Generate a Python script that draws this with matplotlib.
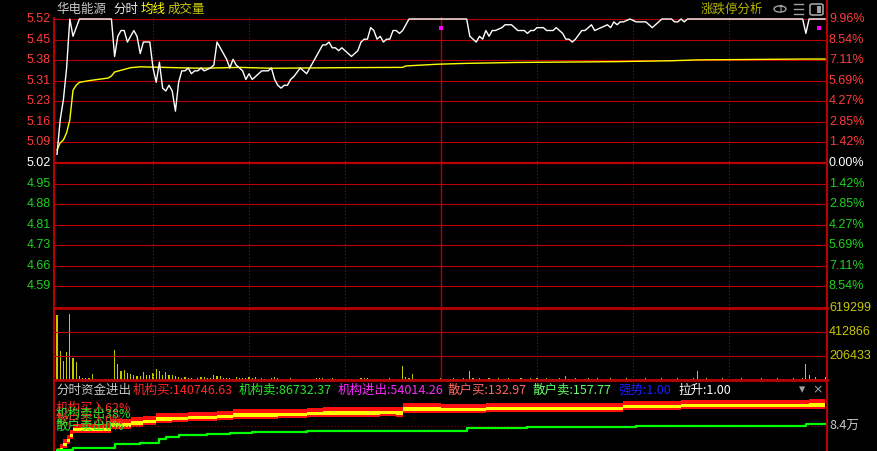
import matplotlib

matplotlib.use("Agg")
import matplotlib.pyplot as plt
import matplotlib.transforms as mtransforms
from matplotlib.lines import Line2D
from matplotlib.patches import Circle, FancyBboxPatch
import numpy as np

plt.rcParams["font.family"] = ["Noto Sans CJK SC", "DejaVu Sans"]

# ---- data ----
PREV_CLOSE = 5.02
LIMIT_UP = 5.52

price_min = [0, 1, 2, 3, 4, 5, 6, 7, 17, 18,
             19, 20, 21, 22, 23, 24, 25, 26, 27, 28,
             29, 30, 31, 32, 33, 34, 35, 36, 37, 38,
             39, 40, 41, 42, 43, 44, 45, 46, 48, 49,
             50, 51, 53, 54, 55, 56, 58, 59, 60, 61,
             62, 64, 66, 67, 68, 69, 70, 71, 72, 73,
             74, 76, 77, 78, 79, 80, 81, 82, 83, 84,
             85, 86, 87, 88, 89, 90, 91, 92, 93, 94,
             95, 96, 97, 98, 99, 100, 101, 102, 103, 104,
             105, 106, 107, 108, 109, 110, 128, 129, 130, 131,
             132, 133, 134, 135, 136, 137, 139, 140, 142, 143,
             144, 146, 147, 148, 149, 150, 152, 153, 155, 156,
             158, 159, 160, 161, 162, 164, 165, 166, 167, 168,
             170, 172, 173, 174, 175, 176, 177, 179, 181, 184,
             185, 186, 187, 188, 189, 192, 193, 194, 195, 196,
             197, 233, 234, 235, 240]
price = [5.05, 5.17, 5.24, 5.35, 5.52, 5.46, 5.49, 5.52, 5.52, 5.39,
         5.46, 5.48, 5.48, 5.44, 5.46, 5.48, 5.46, 5.40, 5.44, 5.44,
         5.44, 5.35, 5.30, 5.37, 5.28, 5.27, 5.29, 5.27, 5.20, 5.30,
         5.34, 5.34, 5.35, 5.33, 5.34, 5.34, 5.35, 5.34, 5.35, 5.36,
         5.44, 5.42, 5.38, 5.35, 5.38, 5.36, 5.34, 5.31, 5.33, 5.31,
         5.32, 5.34, 5.34, 5.35, 5.31, 5.29, 5.28, 5.29, 5.29, 5.31,
         5.32, 5.35, 5.34, 5.33, 5.35, 5.37, 5.39, 5.41, 5.43, 5.43,
         5.44, 5.42, 5.42, 5.41, 5.42, 5.41, 5.40, 5.39, 5.40, 5.41,
         5.44, 5.45, 5.45, 5.49, 5.48, 5.45, 5.46, 5.44, 5.45, 5.45,
         5.48, 5.48, 5.47, 5.48, 5.50, 5.52, 5.52, 5.46, 5.45, 5.44,
         5.46, 5.45, 5.48, 5.46, 5.48, 5.48, 5.49, 5.50, 5.50, 5.49,
         5.48, 5.48, 5.47, 5.48, 5.48, 5.49, 5.49, 5.48, 5.48, 5.49,
         5.47, 5.45, 5.45, 5.44, 5.45, 5.48, 5.48, 5.49, 5.50, 5.48,
         5.49, 5.50, 5.49, 5.51, 5.50, 5.51, 5.51, 5.52, 5.51, 5.51,
         5.50, 5.49, 5.50, 5.51, 5.52, 5.52, 5.51, 5.51, 5.52, 5.51,
         5.52, 5.52, 5.47, 5.52, 5.52]

avg_min = [0, 1, 2, 3, 4, 5, 6, 7, 10, 14, 16, 17, 18, 21, 23, 26, 37, 45,
           57, 67, 89, 108, 109, 119, 128, 143, 175, 192, 200, 234, 240]
avg_price = [5.065, 5.09, 5.10, 5.125, 5.17, 5.273, 5.29, 5.30, 5.306, 5.312,
             5.315, 5.322, 5.336, 5.345, 5.351, 5.354, 5.351, 5.349, 5.352,
             5.349, 5.351, 5.352, 5.357, 5.363, 5.366, 5.369, 5.372, 5.375,
             5.378, 5.381, 5.381]

mark_min = [120, 238]
mark_price = [5.49, 5.49]

# volume per minute, thousands of lots
vol_am = [562, 252, 166, 244, 570, 192, 158, 37, 20, 20,
          20, 54, 11, 11, 11, 11, 11, 11, 261, 140,
          80, 89, 63, 54, 46, 37, 37, 71, 46, 46,
          63, 97, 80, 46, 71, 46, 46, 37, 28, 20,
          28, 20, 20, 11, 20, 28, 28, 20, 20, 46,
          37, 37, 20, 20, 20, 11, 28, 20, 20, 20,
          28, 20, 28, 11, 20, 11, 11, 20, 28, 20,
          11, 11, 11, 20, 11, 11, 11, 11, 11, 11,
          11, 20, 20, 20, 11, 11, 20, 11, 11, 11,
          11, 11, 11, 11, 11, 20, 20, 20, 11, 11,
          11, 11, 11, 11, 20, 11, 11, 11, 123, 28,
          20, 54, 11, 11, 11, 11, 11, 11, 11, 11,
          20]
vol_pm = [11, 9, 9, 17, 9, 9, 17, 9, 77, 17,
          9, 17, 9, 9, 17, 9, 9, 17, 9, 9,
          17, 9, 9, 9, 17, 9, 9, 17, 9, 17,
          9, 9, 17, 9, 9, 9, 17, 9, 34, 9,
          9, 17, 9, 9, 9, 17, 9, 9, 17, 9,
          9, 9, 17, 9, 9, 9, 9, 17, 9, 9,
          9, 9, 9, 17, 9, 9, 9, 9, 17, 9,
          9, 9, 9, 17, 9, 9, 9, 9, 17, 77,
          9, 9, 17, 9, 9, 9, 9, 17, 9, 9,
          9, 9, 9, 17, 9, 9, 9, 9, 9, 17,
          9, 9, 9, 9, 17, 9, 9, 9, 9, 17,
          9, 9, 17, 138, 43, 9, 26, 9, 9, 26]
vol_ticks = [619299, 412866, 206433]

price_labels = ["5.52", "5.45", "5.38", "5.31", "5.23", "5.16", "5.09",
                "5.02", "4.95", "4.88", "4.81", "4.73", "4.66", "4.59"]
pct_labels = ["9.96%", "8.54%", "7.11%", "5.69%", "4.27%", "2.85%", "1.42%",
              "0.00%", "1.42%", "2.85%", "4.27%", "5.69%", "7.11%", "8.54%"]

# fund-flow sub chart (units: 10k)
band_min = [0, 1, 2, 3, 4, 5, 17, 23, 27, 31, 36, 41, 50, 55, 69, 78, 83,
            101, 106, 108, 120, 134, 177, 195, 235, 240]
band_top = [1.0, 2.5, 4.0, 5.5, 7.0, 9.07, 10.65, 11.32, 11.86, 12.67, 12.87,
            13.21, 13.54, 14.01, 14.21, 14.40, 14.68, 14.89, 14.68, 16.03,
            15.9, 16.23, 16.80, 17.14, 17.37, 17.37]
green_min = [0, 5, 18, 26, 32, 34, 38, 47, 54, 61, 78, 128, 147, 181, 234, 240]
green_val = [0.34, 1.1, 2.35, 2.69, 3.93, 4.80, 5.38, 5.71, 6.15, 6.49, 6.82,
             7.63, 7.96, 8.30, 8.97, 8.97]
flow_ref = 8.4

header_parts = [("分时资金进出", "#c8c8c8", 56),
                ("机构买:140746.63", "#ff2828", 133),
                ("机构卖:86732.37", "#28e628", 239),
                ("机构进出:54014.26", "#ff28ff", 338),
                ("散户买:132.97", "#ff6464", 448),
                ("散户卖:157.77", "#64ff64", 533),
                ("强势:1.00", "#1e1eff", 618),
                ("拉升:1.00", "#ffffff", 678)]

# ---- drawing ----
RED = "#b80000"
UP = "#ff3c3c"
DOWN = "#1ed21e"
W_PX, H_PX = 878, 451
X0, X1 = 54, 827
XLIM = (-0.94, 240.6)

fig = plt.figure(figsize=(W_PX / 100, H_PX / 100), dpi=100, facecolor="black")


def fx(x):
    return x / W_PX


def fy(y):
    return 1 - y / H_PX


def panel(top, bottom):
    ax = fig.add_axes([fx(X0), fy(bottom), fx(X1) - fx(X0), (bottom - top) / H_PX])
    ax.set_facecolor("black")
    ax.set_xlim(*XLIM)
    ax.set_xticks([])
    ax.set_yticks([])
    for s in ax.spines.values():
        s.set_visible(False)
    return ax


def vgrid(ax):
    for m in (30, 60, 90, 150, 180, 210):
        ax.axvline(m, color=RED, lw=0.8, ls=(0, (1, 2)))
    ax.axvline(120, color=RED, lw=1.0)


# price panel
ax_p = panel(17, 308)
px_per = (LIMIT_UP - PREV_CLOSE) / 144
ax_p.set_ylim(PREV_CLOSE - 145 * px_per, LIMIT_UP + 2 * px_per)
step = (LIMIT_UP - PREV_CLOSE) / 7
levels = [PREV_CLOSE + step * k for k in range(7, -7, -1)]
tr_p = mtransforms.blended_transform_factory(fig.transFigure, ax_p.transData)
for lv, pl, pc in zip(levels, price_labels, pct_labels):
    zero = abs(lv - PREV_CLOSE) < 1e-9
    ax_p.axhline(lv, color=RED, lw=1.6 if zero else 0.8)
    col = "white" if zero else (UP if lv > PREV_CLOSE else DOWN)
    ax_p.text(fx(51), lv, pl, color=col, fontsize=9, family="Liberation Sans",
              ha="right", va="center", transform=tr_p)
    ax_p.text(fx(829), lv, pc, color=col, fontsize=9, family="Liberation Sans",
              ha="left", va="center", transform=tr_p)
vgrid(ax_p)
ax_p.plot(avg_min, avg_price, color="#ffff00", lw=1.0)
ax_p.plot(price_min, price, color="white", lw=1.0)
ax_p.plot(mark_min, mark_price, "s", color="#ff00ff", ms=2.6, mew=0)

# volume panel
ax_v = panel(308, 380)
ax_v.set_ylim(0, vol_ticks[0])
for t in vol_ticks[1:]:
    ax_v.axhline(t, color=RED, lw=0.8)
vgrid(ax_v)
vols = np.array(vol_am + vol_pm) * 1000
ax_v.bar(np.arange(len(vols)), vols, width=0.35, color="#c8c800", linewidth=0)
tr_v = mtransforms.blended_transform_factory(fig.transFigure, ax_v.transData)
for t in vol_ticks:
    ax_v.text(fx(829), t, str(t), color="#c8c800", fontsize=9,
              family="Liberation Sans", ha="left", va="center", transform=tr_v)

# fund-flow panel
ax_f = panel(380, 451)
ax_f.set_ylim(0, 71 / 2.976)
u = 1 / 2.976  # one pixel in data units
bm = np.array(band_min)
bt = np.array(band_top)
ax_f.axhline(flow_ref, color="#900000", lw=0.8, ls=(0, (1, 2)))
ax_f.fill_between(bm, bt - 4 * u, bt, step="post", color="#ff1010", lw=0)
ax_f.fill_between(bm, bt - 7.3 * u, bt - 4 * u, step="post", color="#ffff00", lw=0)
ax_f.fill_between(bm, bt - 9.3 * u, bt - 7.3 * u, step="post", color="#ff1010", lw=0)
ax_f.step(green_min, green_val, where="post", color="#00ff00", lw=1.6)
tr_f = mtransforms.blended_transform_factory(fig.transFigure, ax_f.transData)
ax_f.text(fx(829), flow_ref, "8.4万", color="#c8c8c8", fontsize=9,
          ha="left", va="center", transform=tr_f)

for txt, col, y in [("机构买入62%", "#ff2828", 408), ("机构卖出38%", "#28e628", 414),
                    ("散户买入0%", "#ff2828", 420), ("散户卖出0%", "#28e628", 426)]:
    fig.text(fx(56), fy(y), txt, color=col, fontsize=9, va="center")

for txt, col, x in header_parts:
    fig.text(fx(x), fy(390), txt, color=col, fontsize=9, va="center")
fig.text(fx(802), fy(390), "▾", color="#a0a0a0", fontsize=9, ha="center", va="center",
         family="DejaVu Sans")
fig.text(fx(818), fy(390), "×", color="#a0a0a0", fontsize=9, ha="center", va="center",
         family="DejaVu Sans")

# frame lines
for xs, ys, lw in [((X0, X0), (18, 451), 1.5), ((X1, X1), (0, 451), 1.5),
                   ((X0, X1), (308, 308), 2.0), ((X0, X1), (380, 380), 2.0)]:
    fig.add_artist(Line2D([fx(v) for v in xs], [fy(v) for v in ys], color=RED, lw=lw))

# title bar
for txt, col, x in [("华电能源", "#c8c8c8", 56), ("分时", "#e6e6e6", 113),
                    ("均线", "#ffff00", 141), ("成交量", "#c8c800", 168),
                    ("涨跌停分析", "#b4b400", 701)]:
    fig.text(fx(x), fy(9), txt, color=col, fontsize=9, va="center")
GRAY = "#a0a0a0"
fig.add_artist(Circle((fx(780), fy(9)), 6 / W_PX, transform=fig.transFigure,
                      fill=False, ec=GRAY, lw=1.0))
fig.text(fx(780), fy(9), "↑", color=GRAY, fontsize=7, fontweight="bold",
         ha="center", va="center", family="DejaVu Sans")
for yy in (4, 9, 14):
    fig.add_artist(Line2D([fx(794), fx(803)], [fy(yy), fy(yy)], color=GRAY, lw=1.0))
fig.add_artist(FancyBboxPatch((fx(810), fy(15)), 13 / W_PX, 11 / H_PX,
                              boxstyle="round,pad=0,rounding_size=0.003",
                              transform=fig.transFigure, fill=False, ec=GRAY, lw=1.2))
fig.add_artist(FancyBboxPatch((fx(817), fy(13)), 4 / W_PX, 7 / H_PX,
                              boxstyle="square,pad=0", transform=fig.transFigure,
                              fc=GRAY, ec="none"))

fig.savefig("out.png", dpi=100, facecolor="black")
